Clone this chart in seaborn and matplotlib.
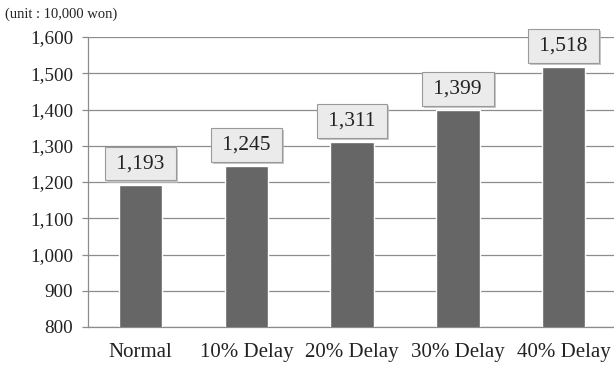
import matplotlib
matplotlib.use("Agg")
import matplotlib.pyplot as plt
import matplotlib.patheffects as pe
import seaborn as sns
import pandas as pd
import numpy as np

categories = ["Normal", "10% Delay", "20% Delay", "30% Delay", "40% Delay"]
values = [1193, 1245, 1311, 1399, 1518]
yticks = [800, 900, 1000, 1100, 1200, 1300, 1400, 1500, 1600]

df = pd.DataFrame({"case": categories, "cost": values})

sns.set_style("white")
plt.rcParams["font.family"] = ["Liberation Serif", "DejaVu Serif"]

fig = plt.figure(figsize=(6.14, 3.67), dpi=100)
ax = fig.add_axes([0.143, 0.109, 0.861, 0.790])

sns.barplot(data=df, x="case", y="cost", color="#666666", saturation=1,
            width=0.41, ax=ax, zorder=3)

ax.set_ylim(800, 1600)
ax.set_xlim(-0.5, 4.5)
ax.set_yticks(yticks)
ax.set_yticklabels([f"{v:,}" for v in yticks], fontsize=13.8, color="#222222")
ax.yaxis.grid(True, color="#8c8c8c", linewidth=0.9, zorder=0)
ax.set_axisbelow(True)
ax.set_xlabel("")
ax.set_ylabel("")
ax.tick_params(axis="x", which="major", length=0, labelsize=15, pad=11.5,
               labelcolor="#222222")
ax.set_xticks(np.arange(-0.5, 5.0, 1.0), minor=True)
ax.tick_params(axis="x", which="minor", length=5, color="#8c8c8c", width=0.9)
ax.tick_params(axis="y", length=4.5, color="#8c8c8c", width=0.9, left=True, pad=6)
for side in ["top", "right"]:
    ax.spines[side].set_visible(False)
for side in ["left", "bottom"]:
    ax.spines[side].set_color("#8c8c8c")
    ax.spines[side].set_linewidth(0.9)

# value labels in grey boxes with a soft shadow
for i, v in enumerate(values):
    t = ax.annotate(f"\u2009{v:,}\u2009", xy=(i, v), xytext=(0, 8.2), textcoords="offset points",
                    ha="center", va="bottom", fontsize=15.5, color="#222222",
                    bbox=dict(boxstyle="square,pad=0.34", fc="#ebebeb", ec="#9a9a9a", lw=0.8),
                    zorder=5)
    t.get_bbox_patch().set_path_effects([
        pe.SimplePatchShadow(offset=(1.5, -1.5), shadow_rgbFace="#bbbbbb", alpha=0.8),
        pe.Normal()])

fig.text(0.008, 0.962, "(unit : 10,000 won)", fontsize=10.5, ha="left", va="center",
         color="#222222")

fig.savefig("out.png", dpi=100)
